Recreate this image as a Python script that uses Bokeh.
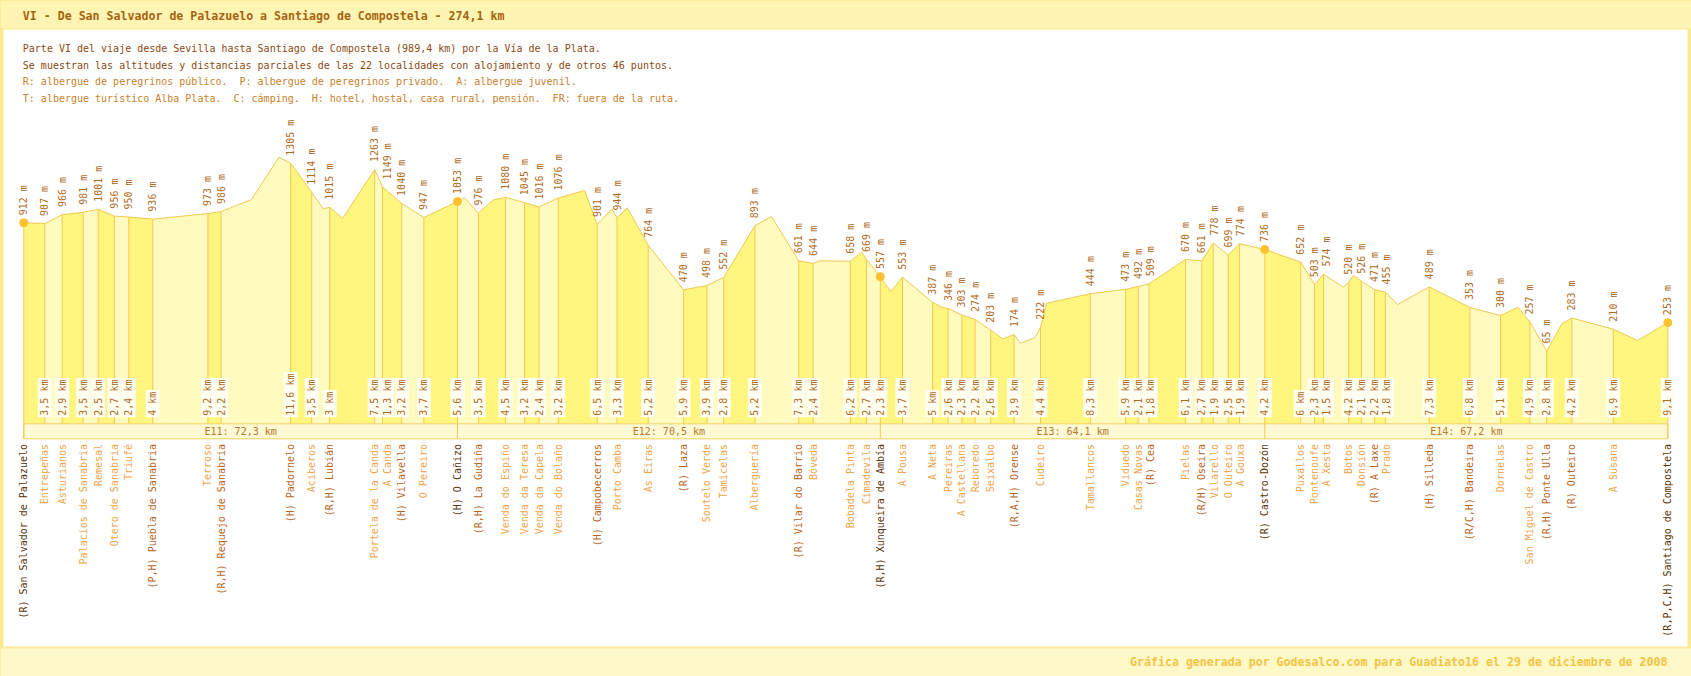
import math
from bokeh.plotting import figure
from bokeh.models import Range1d
from bokeh.core.properties import value
from bokeh.embed import file_html
from bokeh.resources import INLINE

# ---------------- data ----------------
names = [
    "(R) San Salvador de Palazuelo", "Entrepeñas", "Asturianos", "Palacios de Sanabria",
    "Remesal", "Otero de Sanabria", "Triufé", "(P,H) Puebla de Sanabria", "Terroso",
    "(R,H) Requejo de Sanabria", "(H) Padornelo", "Aciberos", "(R,H) Lubián",
    "Portela de la Canda", "A Canda", "(H) Vilavella", "O Pereiro", "(H) O Cañizo",
    "(R,H) La Gudiña", "Venda do Espiño", "Venda da Teresa", "Venda da Capela",
    "Venda do Bolaño", "(H) Campobecerros", "Porto Camba", "As Eiras", "(R) Laza",
    "Soutelo Verde", "Tamicelas", "Alberguería", "(R) Vilar do Barrio", "Bóveda",
    "Bobadela Pinta", "Cimadevila", "(R,H) Xunqueira de Ambía", "A Pousa", "A Neta",
    "Pereiras", "A Castellana", "Reboredo", "Seixalbo", "(R,A,H) Orense", "Cudeiro",
    "Tamallancos", "Viduedo", "Casas Novas", "(R) Cea", "Pielas", "(R/H) Oseira",
    "Vilarello", "O Outeiro", "A Gouxa", "(R) Castro-Dozón", "Puxallos", "Pontenoufe",
    "A Xesta", "Botos", "Donsión", "(R) A Laxe", "Prado", "(H) Silleda",
    "(R/C,H) Bandeira", "Dornelas", "San Miguel de Castro", "(R,H) Ponte Ulla",
    "(R) Outeiro", "A Susana", "(R,P,C,H) Santiago de Compostela",
]
partial_km = [
    0, 3.5, 2.9, 3.5, 2.5, 2.7, 2.4, 4, 9.2, 2.2, 11.6, 3.5, 3, 7.5, 1.3, 3.2, 3.7, 5.6,
    3.5, 4.5, 3.2, 2.4, 3.2, 6.5, 3.3, 5.2, 5.9, 3.9, 2.8, 5.2, 7.3, 2.4, 6.2, 2.7, 2.3,
    3.7, 5, 2.6, 2.3, 2.2, 2.6, 3.9, 4.4, 8.3, 5.9, 2.1, 1.8, 6.1, 2.7, 1.9, 2.5, 1.9, 4.2,
    6, 2.3, 1.5, 4.2, 2.1, 2.2, 1.8, 7.3, 6.8, 5.1, 4.9, 2.8, 4.2, 6.9, 9.1,
]
altitudes = [
    912, 907, 966, 981, 1001, 956, 950, 936, 973, 986, 1305, 1114, 1015, 1263, 1149, 1040,
    947, 1053, 976, 1080, 1045, 1016, 1076, 901, 944, 764, 470, 498, 552, 893, 661, 644,
    658, 669, 557, 553, 387, 346, 303, 274, 203, 174, 222, 444, 473, 492, 509, 670, 661,
    778, 699, 774, 736, 652, 503, 574, 520, 526, 471, 455, 489, 353, 300, 257, 65, 283,
    210, 253,
]
stage_labels = ["E11", "E12", "E13", "E14"]
stage_km = [72.3, 70.5, 64.1, 67.2]
stage_end_idx = [17, 34, 52, 67]

# intermediate (unlabelled) vertices of the drawn profile
extra_km = [37.92, 42.56, 49.93, 53.16, 73.49, 78.3, 93.5, 98.06, 100.62, 124.64,
            132.74, 139.69, 144.54, 153.05, 163.22, 166.2, 168.58, 170.53, 219.96,
            221.69, 229.04, 249.14, 256.46, 269.04]
extra_alt = [1064, 1345, 1004, 942, 1077, 1064, 1125, 1004, 1011, 954,
             661, 718, 458, 355, 146, 117, 153, 381, 487,
             564, 373, 354, 247, 135]

title_text = "VI - De San Salvador de Palazuelo a Santiago de Compostela - 274,1 km"
desc_lines = [
    "Parte VI del viaje desde Sevilla hasta Santiago de Compostela (989,4 km) por la Vía de la Plata.",
    "Se muestran las altitudes y distancias parciales de las 22 localidades con alojamiento y de otros 46 puntos.",
    "R: albergue de peregrinos público.\u00a0 P: albergue de peregrinos privado.\u00a0 A: albergue juvenil.",
    "T: albergue turístico Alba Plata.\u00a0 C: cámping.\u00a0 H: hotel, hostal, casa rural, pensión.\u00a0 FR: fuera de la ruta.",
]
footer_text = "Gráfica generada por Godesalco.com para Guadiato16 el 29 de diciembre de 2008"

# ---------------- layout helpers (page pixels -> data) ----------------
W, H = 1691, 676
KM0_PX = 23.3
PX_PER_KM = 5.998
REF_ALT = 912
REF_PY = 222.3
PX_PER_M = 0.1515
MIN_GAP_PX = 12.4


def X(px):
    return (px - KM0_PX) / PX_PER_KM


def Y(py):
    return REF_ALT - (py - REF_PY) / PX_PER_M


FONT = value("DejaVu Sans Mono")

cum = [0.0]
for d in partial_km[1:]:
    cum.append(round(cum[-1] + d, 1))

# label positions, pushed right when two stations are too close
lab = []
for k in cum:
    if lab and k < lab[-1] + MIN_GAP_PX / PX_PER_KM:
        k = lab[-1] + MIN_GAP_PX / PX_PER_KM
    lab.append(k)

p = figure(width=W, height=H, x_range=Range1d(X(0), X(W)),
           y_range=Range1d(Y(H), Y(0)), output_backend="svg",
           toolbar_location=None, min_border=0, x_axis_location=None,
           y_axis_location=None, background_fill_color="white",
           border_fill_color="white", outline_line_color="#FFE98F",
           outline_line_width=6)
p.grid.visible = False

# header band
p.quad(left=[X(0)], right=[X(W)], top=[Y(0)], bottom=[Y(28.5)],
       fill_color="#FFF4B2", line_color=None)
p.segment(x0=[X(0)], y0=[Y(28.5)], x1=[X(W)], y1=[Y(28.5)],
          line_color="#FFEB9A", line_width=1)
p.text(x=[X(22.3)], y=[Y(15)], text=[title_text], text_font=FONT,
       text_font_size="11.6px", text_font_style="bold", text_color="#A5640F",
       text_align="left", text_baseline="middle")

desc_y = [48.3, 64.6, 81.2, 98.3]
desc_col = ["#8C4A12", "#8C4A12", "#C8822E", "#C8822E"]
p.text(x=[X(22.3)] * 4, y=[Y(v) for v in desc_y], text=desc_lines, text_font=FONT,
       text_font_size="10px", text_color=desc_col, text_align="left",
       text_baseline="middle")

# footer band
p.quad(left=[X(0)], right=[X(W)], top=[Y(647)], bottom=[Y(H)],
       fill_color="#FFF8C8", line_color=None)
p.segment(x0=[X(0)], y0=[Y(647)], x1=[X(W)], y1=[Y(647)],
          line_color="#FFEB9A", line_width=2)
p.text(x=[X(1667)], y=[Y(661)], text=[footer_text], text_font=FONT,
       text_font_size="11.6px", text_font_style="bold", text_color="#F2C544",
       text_align="right", text_baseline="middle")

# ---------------- profile ----------------
base = Y(423.3)
xs_list, ys_list, cols = [], [], []
for i in range(len(cum) - 1):
    a, b = cum[i], cum[i + 1]
    inner = sorted((k, h) for k, h in zip(extra_km, extra_alt) if a < k < b)
    xs_list.append([a, a] + [k for k, _ in inner] + [b, b])
    ys_list.append([base, altitudes[i]] + [h for _, h in inner] + [altitudes[i + 1], base])
    cols.append("#FFF680" if i % 2 == 0 else "#FFFBBE")
p.patches(xs_list, ys_list, fill_color=cols, line_color=None)

prof = sorted(list(zip(cum, altitudes)) + list(zip(extra_km, extra_alt)))
p.line([k for k, _ in prof], [h for _, h in prof], line_color="#F0C94E", line_width=1)

# stage bar
bar_top, bar_bot = Y(423.3), Y(438.3)
p.quad(left=[0], right=[cum[-1]], top=[bar_top], bottom=[bar_bot],
       fill_color="#FFF9D4", line_color="#F2D060", line_width=1)

stage_start_idx = [0] + stage_end_idx[:-1]
ends = set(stage_end_idx) | {0}
norm = [i for i in range(len(cum)) if i not in ends]
p.segment(x0=[cum[i] for i in norm], y0=[base] * len(norm),
          x1=[cum[i] for i in norm], y1=[altitudes[i] for i in norm],
          line_color="#F2C94C", line_width=1)
se = sorted(ends)
p.segment(x0=[cum[i] for i in se], y0=[bar_bot] * len(se),
          x1=[cum[i] for i in se], y1=[altitudes[i] for i in se],
          line_color="#F2C94C", line_width=1)

stage_txt = ["%s: %s km" % (s, str(k).replace(".", ",")) for s, k in zip(stage_labels, stage_km)]
p.text(x=[(cum[a] + cum[b]) / 2 for a, b in zip(stage_start_idx, stage_end_idx)],
       y=[Y(431)] * 4, text=stage_txt, text_font=FONT, text_font_size="10px",
       text_color="#B47A30", text_align="center", text_baseline="middle")

p.scatter(x=[cum[i] for i in se], y=[altitudes[i] for i in se], size=8,
          fill_color="#FFC12E", line_color="#FFC12E")

# altitude labels
p.text(x=lab, y=[a + 7.5 / PX_PER_M for a in altitudes], text=["%d m" % a for a in altitudes],
       angle=math.pi / 2, text_font=FONT, text_font_size="10px", text_color="#B06C1E",
       text_align="left", text_baseline="middle")


def fmt(v):
    return str(int(v)) if float(v).is_integer() else str(v).replace(".", ",")


km_txt = [fmt(d) + " km" for d in partial_km[1:]]
km_x = lab[1:]
heights = [6.02 * len(t) + 3 for t in km_txt]
p.rect(x=km_x, y=[Y(416.7 - h / 2) for h in heights], width=14, height=heights,
       width_units="screen", height_units="screen", fill_color="#FFFEF0",
       line_color=None)
p.text(x=km_x, y=[Y(415.2)] * len(km_x), text=km_txt, angle=math.pi / 2,
       text_font=FONT, text_font_size="10px", text_color="#B06C1E",
       text_align="left", text_baseline="middle")

# place names
name_col = []
for i, n in enumerate(names):
    if i in ends:
        name_col.append("#5A3408")
    elif n.startswith("("):
        name_col.append("#B8661E")
    else:
        name_col.append("#EDA54A")
p.text(x=lab, y=[Y(443.5)] * len(cum), text=names, angle=math.pi / 2, text_font=FONT,
       text_font_size="10px", text_color=name_col, text_align="right",
       text_baseline="middle")

open("out.html", "w").write(file_html(p, INLINE))
